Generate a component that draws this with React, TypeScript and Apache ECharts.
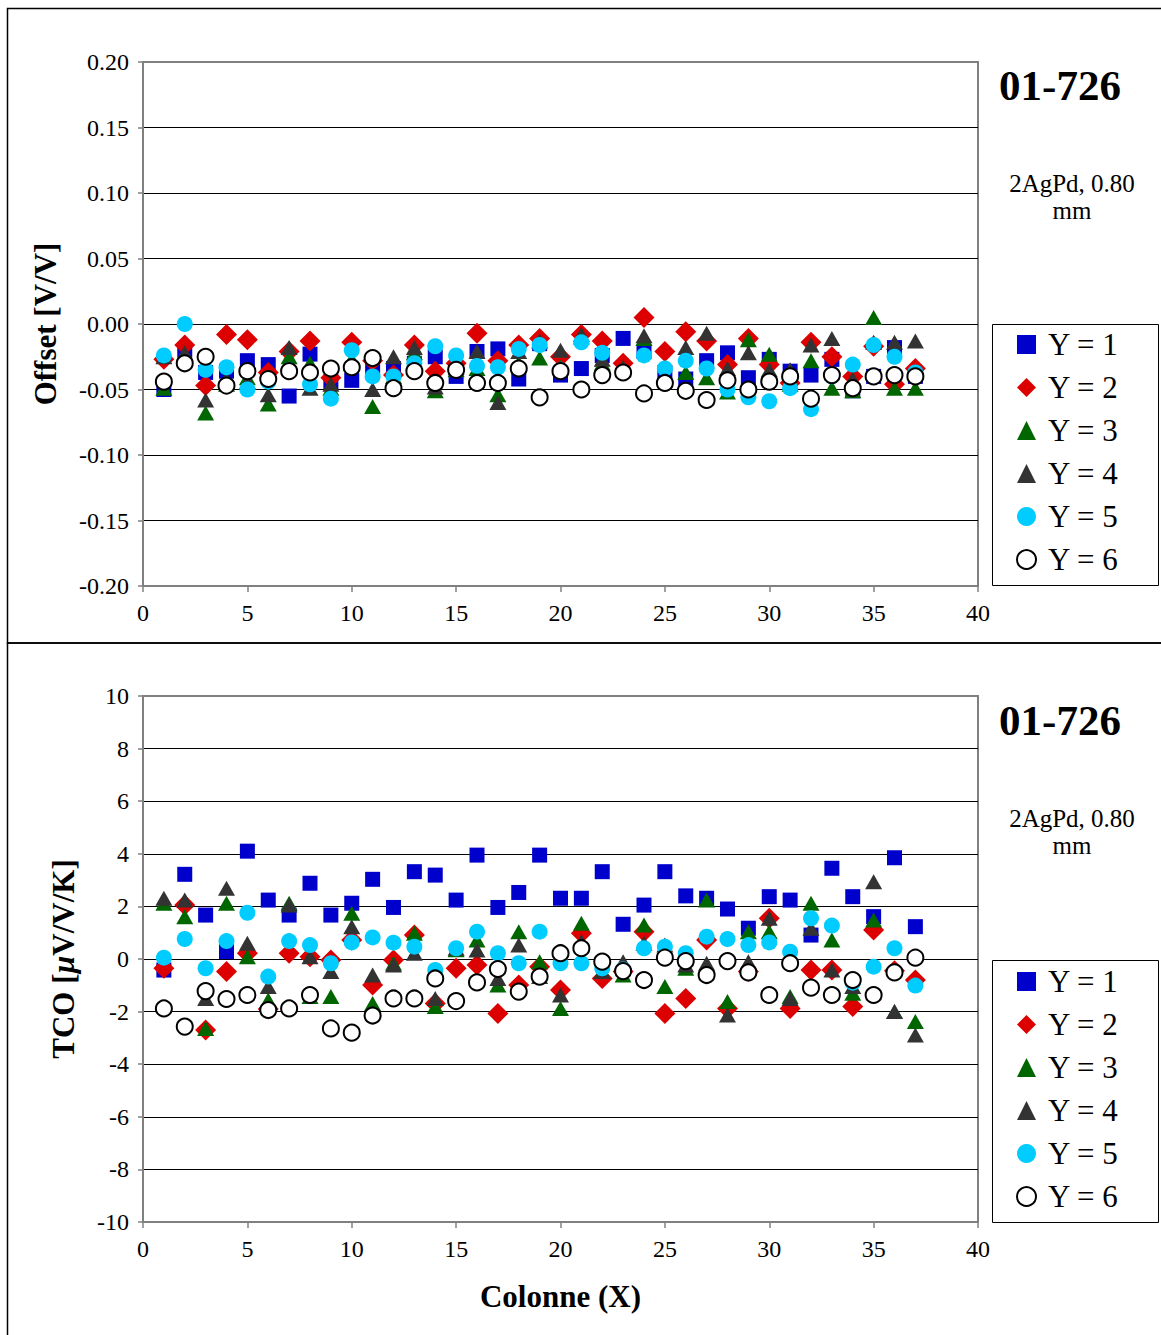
import React, { useEffect, useRef } from "react";
import * as echarts from "echarts";

const FONT = "'Liberation Serif', 'Times New Roman', serif";

const columns = [1, 2, 3, 4, 5, 6, 7, 8, 9, 10, 11, 12, 13, 14, 15, 16, 17, 18, 19, 20, 21, 22, 23, 24, 25, 26, 27, 28, 29, 30, 31, 32, 33, 34, 35, 36, 37];

const seriesNames = ["Y = 1", "Y = 2", "Y = 3", "Y = 4", "Y = 5", "Y = 6"];

// Offset [V/V]
const offsetY1 = [-0.050, -0.020, -0.037, -0.036, -0.028, -0.031, -0.055, -0.023, -0.044, -0.043, -0.033, -0.034, -0.030, -0.025, -0.040, -0.021, -0.019, -0.042, -0.015, -0.039, -0.034, -0.024, -0.011, -0.021, -0.037, -0.042, -0.028, -0.022, -0.041, -0.027, -0.036, -0.039, -0.027, -0.051, -0.040, -0.018, -0.040];
const offsetY2 = [-0.027, -0.016, -0.047, -0.008, -0.012, -0.037, -0.021, -0.013, -0.041, -0.014, -0.028, -0.039, -0.016, -0.036, -0.030, -0.007, -0.028, -0.016, -0.011, -0.025, -0.008, -0.013, -0.030, 0.005, -0.021, -0.006, -0.013, -0.031, -0.011, -0.031, -0.045, -0.014, -0.025, -0.040, -0.017, -0.046, -0.034];
const offsetY3 = [-0.049, -0.026, -0.068, -0.046, -0.041, -0.061, -0.025, -0.030, -0.049, -0.027, -0.063, -0.040, -0.022, -0.051, -0.035, -0.034, -0.054, -0.030, -0.026, -0.033, -0.010, -0.030, -0.035, -0.011, -0.040, -0.037, -0.041, -0.052, -0.012, -0.023, -0.046, -0.028, -0.049, -0.051, 0.005, -0.049, -0.049];
const offsetY4 = [-0.025, -0.022, -0.058, -0.042, -0.044, -0.054, -0.018, -0.049, -0.046, -0.030, -0.050, -0.025, -0.018, -0.048, -0.033, -0.021, -0.060, -0.021, -0.013, -0.020, -0.008, -0.027, -0.033, -0.009, -0.042, -0.018, -0.007, -0.034, -0.022, -0.035, -0.035, -0.016, -0.011, -0.042, -0.014, -0.014, -0.013];
const offsetY5 = [-0.024, 0.000, -0.035, -0.033, -0.050, -0.044, -0.035, -0.046, -0.057, -0.020, -0.040, -0.040, -0.030, -0.017, -0.024, -0.032, -0.033, -0.019, -0.016, -0.035, -0.014, -0.022, -0.037, -0.024, -0.034, -0.028, -0.034, -0.050, -0.056, -0.059, -0.049, -0.065, -0.040, -0.031, -0.016, -0.025, -0.037];
const offsetY6 = [-0.044, -0.030, -0.025, -0.047, -0.036, -0.042, -0.036, -0.037, -0.034, -0.033, -0.026, -0.049, -0.036, -0.045, -0.035, -0.045, -0.045, -0.034, -0.056, -0.036, -0.050, -0.039, -0.037, -0.053, -0.045, -0.051, -0.058, -0.043, -0.050, -0.044, -0.040, -0.057, -0.039, -0.049, -0.040, -0.039, -0.040];

// TCO [µV/V/K]
const tcoY1 = [-0.42, 3.22, 1.67, 0.28, 4.10, 2.24, 1.67, 2.88, 1.67, 2.12, 3.03, 1.96, 3.32, 3.19, 2.24, 3.95, 1.96, 2.53, 3.95, 2.31, 2.31, 3.32, 1.32, 2.05, 3.32, 2.40, 2.31, 1.90, 1.17, 2.37, 2.24, 0.91, 3.45, 2.37, 1.61, 3.85, 1.23];
const tcoY2 = [-0.35, 2.05, -2.70, -0.48, 0.22, -1.90, 0.22, 0.09, -0.04, 0.72, -0.99, -0.04, 0.91, -1.69, -0.35, -0.23, -2.07, -0.99, -0.29, -1.18, 0.98, -0.74, -0.48, 1.04, -2.07, -1.50, 0.72, -1.88, -0.48, 1.55, -1.88, -0.42, -0.42, -1.81, 1.10, -0.45, -0.80];
const tcoY3 = [2.12, 1.61, -2.64, 2.12, 0.09, -1.56, 2.12, -1.43, -1.43, 1.74, -1.69, -0.16, 0.98, -1.81, 0.35, 0.72, -0.99, 1.04, -0.10, -1.88, 1.36, -0.48, -0.61, 1.29, -1.05, -0.35, 2.24, -1.62, 1.04, 1.04, -1.43, 2.12, 0.72, -1.30, 1.48, -2.00, -2.38];
const tcoY4 = [2.31, 2.24, -1.50, 2.69, 0.60, -1.05, 2.05, 0.09, -0.48, 1.23, -0.61, -0.23, 0.22, -1.50, 0.41, 0.34, -0.74, 0.53, -0.67, -1.37, 0.66, -0.48, -0.10, 0.60, 0.53, -0.23, -0.16, -2.13, -0.10, 1.55, -1.50, 1.17, -0.42, -1.05, 2.94, -2.00, -2.89];
const tcoY5 = [0.05, 0.76, -0.35, 0.68, 1.76, -0.67, 0.68, 0.53, -0.16, 0.63, 0.82, 0.62, 0.47, -0.42, 0.41, 1.04, 0.22, -0.16, 1.04, -0.16, -0.16, -0.35, -0.40, 0.41, 0.47, 0.22, 0.85, 0.76, 0.53, 0.63, 0.28, 1.55, 1.27, -0.90, -0.29, 0.41, -1.01];
const tcoY6 = [-1.88, -2.57, -1.22, -1.52, -1.37, -1.94, -1.88, -1.37, -2.64, -2.80, -2.15, -1.50, -1.50, -0.74, -1.60, -0.89, -0.38, -1.24, -0.67, 0.22, 0.41, -0.10, -0.46, -0.80, 0.05, -0.08, -0.61, -0.08, -0.51, -1.37, -0.16, -1.09, -1.37, -0.80, -1.37, -0.51, 0.05];

const offsetSeries = [offsetY1, offsetY2, offsetY3, offsetY4, offsetY5, offsetY6];
const tcoSeries = [tcoY1, tcoY2, tcoY3, tcoY4, tcoY5, tcoY6];

const markerStyles: any[] = [
  { symbol: "rect", symbolSize: 15, itemStyle: { color: "#0000CC", opacity: 1 } },
  { symbol: "diamond", symbolSize: 21, itemStyle: { color: "#DD0000", opacity: 1 } },
  { symbol: "triangle", symbolSize: [17, 15], itemStyle: { color: "#006600", opacity: 1 } },
  { symbol: "triangle", symbolSize: [17, 15], itemStyle: { color: "#333333", opacity: 1 } },
  { symbol: "circle", symbolSize: 16, itemStyle: { color: "#00CCFF", opacity: 1 } },
  { symbol: "circle", symbolSize: 16, itemStyle: { color: "#FFFFFF", borderColor: "#000000", borderWidth: 2, opacity: 1 } },
];

const xTitle = "Colonne (X)";
const chartCode = "01-726";
const chartNote = "2AgPd, 0.80\nmm";

export default function App() {
  const ref = useRef<HTMLDivElement>(null);

  useEffect(() => {
    document.body.style.margin = "0";
    document.body.style.overflow = "hidden";
    if (!ref.current) return;
    const chart = echarts.init(ref.current, undefined, { renderer: "svg" });

    const gray = "#808080";
    const makeX = (gridIndex: number, withName: boolean) => ({
      type: "value",
      gridIndex,
      min: 0,
      max: 40,
      interval: 5,
      name: withName ? xTitle : "",
      nameLocation: "middle",
      nameGap: 59,
      nameTextStyle: { fontFamily: FONT, fontSize: 31, fontWeight: "bold", color: "#000" },
      axisLine: { show: true, onZero: false, lineStyle: { color: gray, width: 2 } },
      axisTick: { show: true, length: 6, lineStyle: { color: gray, width: 1.5 } },
      axisLabel: { fontFamily: FONT, fontSize: 24, color: "#000", margin: 15 },
      splitLine: { show: false },
    });

    const makeY = (gridIndex: number, min: number, max: number, interval: number, name: string, gap: number, fmt?: (v: number) => string) => ({
      type: "value",
      gridIndex,
      min,
      max,
      interval,
      name,
      nameLocation: "middle",
      nameGap: gap,
      nameRotate: 90,
      nameTextStyle: {
        fontFamily: FONT,
        fontSize: 31,
        fontWeight: "bold",
        color: "#000",
        rich: { i: { fontFamily: FONT, fontSize: 31, fontWeight: "bold", fontStyle: "italic", color: "#000" } },
      },
      axisLine: { show: true, onZero: false, lineStyle: { color: gray, width: 2 } },
      axisTick: { show: true, length: 5, lineStyle: { color: gray, width: 1.5 } },
      axisLabel: { fontFamily: FONT, fontSize: 24, color: "#000", margin: 14, formatter: fmt },
      splitLine: { show: true, showMinLine: false, showMaxLine: false, lineStyle: { color: "#000", width: 1 } },
    });

    const series: any[] = [];
    offsetSeries.forEach((vals, k) => {
      series.push({
        type: "scatter",
        name: seriesNames[k],
        xAxisIndex: 0,
        yAxisIndex: 0,
        ...markerStyles[k],
        data: vals.map((v, i) => [columns[i], v]),
      });
    });
    tcoSeries.forEach((vals, k) => {
      series.push({
        type: "scatter",
        name: seriesNames[k],
        xAxisIndex: 1,
        yAxisIndex: 1,
        ...markerStyles[k],
        data: vals.map((v, i) => [columns[i], v]),
      });
    });

    const legendBase = {
      orient: "vertical",
      left: 1016,
      itemWidth: 19,
      itemHeight: 19,
      itemGap: 12,
      selectedMode: false,
      padding: 0,
      textStyle: { fontFamily: FONT, fontSize: 31, color: "#000", lineHeight: 30, padding: [0, 0, 0, 7] },
      data: seriesNames,
    };

    const annot = (top: number, legendTop: number, legendH: number) => [
      {
        type: "text",
        x: 1060,
        y: top,
        style: { text: chartCode, font: `bold 43px ${FONT}`, fill: "#000", align: "center", verticalAlign: "middle" },
      },
      {
        type: "text",
        x: 1072,
        y: top + 112,
        style: { text: chartNote, font: `25px ${FONT}`, fill: "#000", align: "center", verticalAlign: "middle", lineHeight: 27 },
      },
      {
        type: "rect",
        shape: { x: 992.5, y: legendTop + 0.5, width: 166, height: legendH },
        style: { fill: "none", stroke: "#000", lineWidth: 1 },
      },
    ];

    chart.setOption({
      animation: false,
      backgroundColor: "#fff",
      grid: [
        { left: 143, top: 62, width: 835, height: 524, show: true, borderColor: gray, borderWidth: 2, backgroundColor: "transparent" },
        { left: 143, top: 696, width: 835, height: 526, show: true, borderColor: gray, borderWidth: 2, backgroundColor: "transparent" },
      ],
      xAxis: [makeX(0, false), makeX(1, true)],
      yAxis: [
        makeY(0, -0.2, 0.2, 0.05, "Offset [V/V]", 82, (v: number) => v.toFixed(2)),
        makeY(1, -10, 10, 2, "TCO [{i|µ}V/V/K]", 64),
      ],
      legend: [
        { ...legendBase, top: 329 },
        { ...legendBase, top: 966 },
      ],
      graphic: [
        {
          type: "rect",
          z: -10,
          shape: { x: 7.5, y: 8.5, width: 1170, height: 634.5 },
          style: { fill: "none", stroke: "#000", lineWidth: 1.5 },
        },
        {
          type: "rect",
          z: -10,
          shape: { x: 7.5, y: 643, width: 1170, height: 720 },
          style: { fill: "none", stroke: "#000", lineWidth: 1.5 },
        },
        ...annot(85, 324, 261),
        ...annot(720, 960, 262),
      ],
      series,
    });

    return () => {
      chart.dispose();
    };
  }, []);

  return <div ref={ref} style={{ width: 1161, height: 1335 }} />;
}
